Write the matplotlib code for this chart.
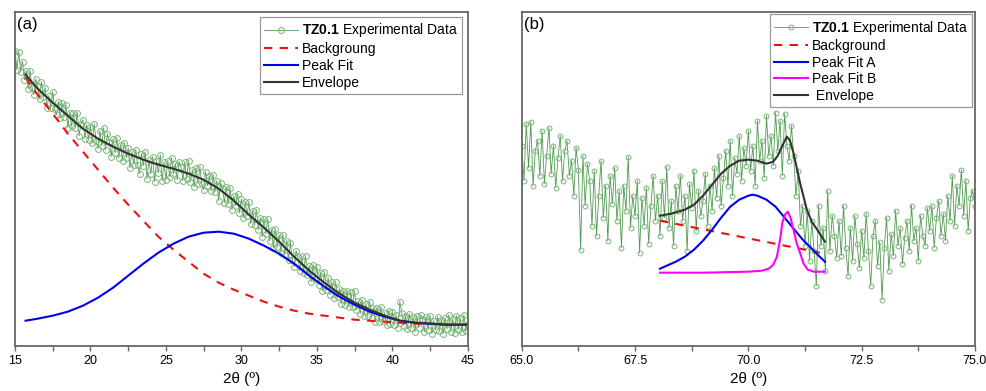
import numpy as np
import matplotlib
matplotlib.use("Agg")
import matplotlib.pyplot as plt

plt.rcParams['font.family'] = ['Liberation Sans', 'DejaVu Sans']
plt.rcParams['mathtext.fontset'] = 'custom'
plt.rcParams['mathtext.rm'] = 'Liberation Sans'
plt.rcParams['mathtext.bf'] = 'Liberation Sans:bold'

# ---------- panel (a) data ----------
xa_data = np.linspace(15, 45, 241)
ya_data = [
    295, 276, 294, 274, 284, 266, 275, 257,
    275, 258, 251, 267, 260, 247, 264, 249,
    258, 238, 250, 238, 254, 237, 231, 244,
    228, 243, 229, 241, 218, 233, 220, 233,
    218, 233, 210, 222, 226, 207, 221, 206,
    219, 203, 222, 205, 197, 215, 200, 218,
    196, 212, 204, 189, 207, 193, 208, 188,
    201, 185, 203, 188, 198, 178, 194, 181,
    196, 181, 172, 192, 180, 194, 167, 186,
    172, 189, 164, 185, 173, 191, 165, 184,
    166, 185, 169, 188, 172, 182, 166, 184,
    179, 165, 184, 167, 185, 164, 176, 159,
    178, 162, 179, 162, 156, 174, 160, 170,
    155, 171, 154, 165, 145, 163, 157, 143,
    159, 142, 158, 136, 150, 140, 152, 133,
    147, 128, 144, 130, 144, 122, 135, 121,
    136, 116, 128, 109, 127, 112, 127, 105,
    116, 98, 117, 99, 111, 93, 111, 91,
    105, 86, 103, 86, 79, 95, 89, 75,
    90, 73, 90, 71, 80, 64, 81, 67,
    79, 61, 73, 55, 74, 56, 68, 51,
    64, 48, 64, 49, 57, 42, 55, 41,
    55, 39, 54, 39, 55, 36, 45, 32,
    46, 30, 42, 30, 44, 28, 38, 24,
    38, 24, 39, 25, 33, 21, 35, 22,
    34, 21, 31, 18, 44, 33, 20, 30,
    17, 32, 18, 29, 14, 30, 18, 31,
    27, 14, 29, 16, 30, 12, 25, 16,
    29, 15, 26, 12, 28, 17, 31, 14,
    27, 13, 30, 16, 28, 14, 31, 15,
    22,
]

xa_fit = [15.7, 16.5, 17.5, 18.5, 19.5, 20.5, 21.5, 22.5, 23.5, 24.5,
          25.5, 26.5, 27.5, 28.5, 29.5, 30.5, 31.5, 32.5, 33.5, 34.5,
          35.5, 36.5, 37.5, 38.5, 39.5, 40.5, 41.5, 42.5, 43.5, 45]
ya_bg = [268, 251, 232, 212, 194, 176, 158, 141, 125, 109,
         96, 84, 72, 63, 56, 50, 44, 39, 35, 32,
         30, 28, 26, 25, 24, 23, 22, 22, 21, 21]
ya_peak = [25, 27, 30, 34, 40, 48, 58, 70, 82, 93,
           102, 109, 113, 114, 112, 107, 100, 92, 82, 70,
           59, 49, 41, 34, 29, 25, 23, 22, 21, 21]
ya_env = [271, 257, 243, 230, 217, 207, 199, 192, 186, 181,
          177, 172, 166, 157, 145, 131, 118, 104, 89, 75,
          63, 52, 43, 36, 30, 25, 23, 22, 21, 21]

# ---------- panel (b) data ----------
xb_data = np.linspace(65, 75, 201)
yb_data = [
    200, 165, 222, 178, 224, 160, 195, 205, 170, 215,
    162, 190, 218, 172, 200, 158, 188, 210, 165, 195,
    205, 170, 185, 150, 198, 176, 96, 190, 140, 182,
    165, 120, 175, 110, 150, 185, 128, 160, 105, 170,
    142, 178, 125, 155, 98, 160, 135, 189, 118, 150,
    130, 165, 93, 148, 120, 158, 102, 140, 170, 125,
    150, 110, 165, 128, 179, 118, 145, 100, 160, 135,
    170, 125, 150, 95, 162, 138, 175, 115, 155, 130,
    145, 172, 120, 160, 135, 178, 148, 190, 140, 168,
    195, 160, 205, 150, 188, 172, 210, 165, 198, 180,
    215, 175, 200, 160, 225, 185, 205, 168, 230, 190,
    210, 180, 233, 195, 225, 170, 232, 200, 185, 220,
    190, 150, 175, 120, 140, 100, 135, 85, 125, 95,
    60, 140, 100, 118, 75, 155, 95, 130, 110, 88,
    125, 90, 140, 98, 70, 118, 85, 130, 102, 78,
    115, 88, 132, 95, 60, 110, 125, 80, 104, 46,
    98, 128, 75, 112, 90, 135, 100, 118, 82, 108,
    125, 95, 140, 105, 118, 85, 130, 110, 100, 138,
    115, 140, 98, 128, 145, 110, 132, 105, 150, 125,
    170, 120, 160, 140, 176, 130, 165, 115, 148, 155,
    140,
]

xb_env = [68.05, 68.3, 68.6, 68.8, 69.0, 69.2, 69.4, 69.6, 69.8, 70.0,
          70.2, 70.4, 70.55, 70.65, 70.75, 70.85, 70.92, 71.0, 71.14,
          71.29, 71.4, 71.52, 71.69]
yb_env = [130, 132, 136, 141, 150, 161, 172, 180, 185, 186,
          185, 182, 184, 190, 200, 209, 205, 192, 163,
          136, 124, 116, 104]
xb_a = [68.05, 68.2, 68.4, 68.6, 68.8, 69.0, 69.2, 69.4, 69.6, 69.8, 70.0,
        70.1, 70.2, 70.4, 70.6, 70.8, 71.0, 71.2, 71.4, 71.55, 71.69]
yb_a = [77, 80, 84, 89, 96, 105, 116, 128, 139, 146, 150,
        151, 150, 146, 139, 128, 117, 106, 97, 90, 84]
xb_b = [68.05, 69.0, 70.0, 70.3, 70.45, 70.55, 70.63, 70.7, 70.75, 70.81, 70.87,
        70.93, 70.98, 71.07, 71.14, 71.22, 71.31, 71.45, 71.69]
yb_b = [73, 73, 74, 75, 77, 81, 89, 106, 123, 131, 134,
        128, 119, 102, 93, 82, 76, 74, 74]
xb_bg = [68.05, 71.58]
yb_bg = [125, 93]

green_line = '#4f9a4f'
green_mark = '#78b478'

fig = plt.figure(figsize=(9.87, 3.91), dpi=100)
ax1 = fig.add_axes([0.0152, 0.1159, 0.4587, 0.8542])
ax2 = fig.add_axes([0.5286, 0.1159, 0.4592, 0.8542])


def style(ax):
    for s in ax.spines.values():
        s.set_color('#666666')
        s.set_linewidth(1.3)
    ax.set_yticks([])
    ax.tick_params(axis='x', direction='out', length=3.5, width=1, colors='#666666',
                   labelcolor='black', labelsize=9)
    ax.tick_params(axis='x', which='minor', direction='out', length=3.5, width=1, colors='#666666')
    ax.set_xlabel('2θ (º)', fontsize=11, labelpad=3)


# panel a
ax1.plot(xa_data, ya_data, '-o', color=green_line, lw=0.6, ms=4.2, mfc='none',
         mec=green_mark, mew=0.7, label=r'$\mathbf{TZ0.1}$ Experimental Data')
ax1.plot(xa_fit, ya_bg, '--', color='#ee1111', lw=1.5, dashes=(4, 3.5), label='Backgroung')
ax1.plot(xa_fit, ya_peak, '-', color='#0000ee', lw=1.5, label='Peak Fit')
ax1.plot(xa_fit, ya_env, '-', color='#333333', lw=1.5, label='Envelope')
ax1.set_xlim(15, 45)
ax1.set_ylim(0, 334)
ax1.set_xticks([15, 20, 25, 30, 35, 40, 45])
ax1.set_xticks(np.arange(17.5, 45, 5), minor=True)
style(ax1)
ax1.text(0.004, 0.985, '(a)', transform=ax1.transAxes, ha='left', va='top', fontsize=12)
leg1 = ax1.legend(loc='upper right', fontsize=10, frameon=True, fancybox=False,
                  edgecolor='#999999', framealpha=1, handlelength=2.4, handletextpad=0.3,
                  borderaxespad=0.4, labelspacing=0.2, borderpad=0.3)
leg1.get_frame().set_linewidth(0.9)

# panel b
ax2.plot(xb_data, yb_data, '-o', color=green_line, lw=0.6, ms=3.5, mfc='none',
         mec=green_mark, mew=0.7, label=r'$\mathbf{TZ0.1}$ Experimental Data')
ax2.plot(xb_bg, yb_bg, '--', color='#ee1111', lw=1.5, dashes=(4, 3.5), label='Background')
ax2.plot(xb_a, yb_a, '-', color='#0000ee', lw=1.5, label='Peak Fit A')
ax2.plot(xb_b, yb_b, '-', color='#ff00ff', lw=1.5, label='Peak Fit B')
ax2.plot(xb_env, yb_env, '-', color='#333333', lw=1.5, label=' Envelope')
ax2.set_xlim(65, 75)
ax2.set_ylim(0, 334)
ax2.set_xticks([65, 67.5, 70, 72.5, 75])
ax2.set_xticklabels(['65.0', '67.5', '70.0', '72.5', '75.0'])
ax2.set_xticks(np.arange(66.25, 75, 2.5), minor=True)
style(ax2)
ax2.text(0.004, 0.985, '(b)', transform=ax2.transAxes, ha='left', va='top', fontsize=12)
leg2 = ax2.legend(loc='upper right', fontsize=10, frameon=True, fancybox=False,
                  edgecolor='#999999', framealpha=1, handlelength=2.4, handletextpad=0.3,
                  borderaxespad=0.2, labelspacing=0.18, borderpad=0.3)
leg2.get_frame().set_linewidth(0.9)

fig.savefig('out.png', dpi=100)
